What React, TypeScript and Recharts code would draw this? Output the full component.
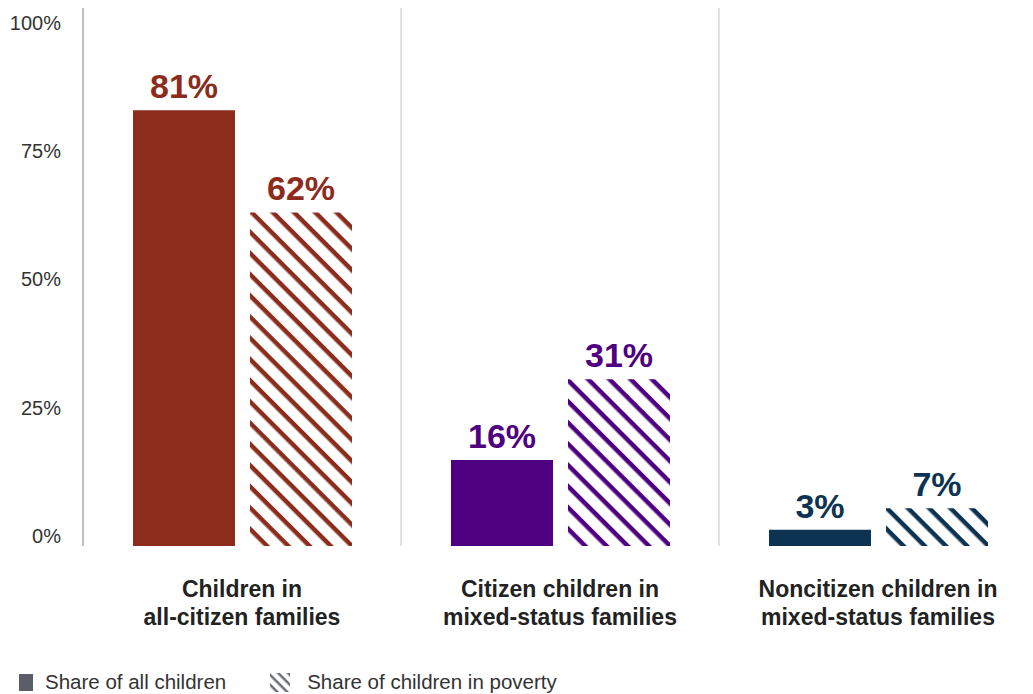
import React from 'react';
import { BarChart, Bar, XAxis, YAxis, Cell, LabelList, ReferenceLine, Legend } from 'recharts';

const categories = [
  'Children in all-citizen families',
  'Citizen children in mixed-status families',
  'Noncitizen children in mixed-status families',
];
const categoryLines = [
  ['Children in', 'all-citizen families'],
  ['Citizen children in', 'mixed-status families'],
  ['Noncitizen children in', 'mixed-status families'],
];
const shareAll = [81, 16, 3];
const sharePoverty = [62, 31, 7];
const yTicks = [0, 25, 50, 75, 100];
const groupColors = ['#8b2c1c', '#4f0080', '#0c3352'];
const seriesNames = ['Share of all children', 'Share of children in poverty'];

const data = categories.map((c, i) => ({ category: c, all: shareAll[i], poverty: sharePoverty[i] }));

const FONT = '"Liberation Sans", Arial, sans-serif';

const YTick = (props: any) => {
  const { x, y, payload } = props;
  const v = payload.value as number;
  const dy = -10 + 0.24 * v;
  return (
    <text x={x} y={y + dy} textAnchor="end" dominantBaseline="central" fill="#333" fontSize={20} fontFamily={FONT}>
      {`${v}%`}
    </text>
  );
};

const XTick = (props: any) => {
  const { x, y, payload } = props;
  const idx = categories.indexOf(payload.value);
  const lines = categoryLines[idx] || [payload.value];
  return (
    <g>
      {lines.map((l, i) => (
        <text key={i} x={x} y={y + 43 + i * 28} textAnchor="middle" dominantBaseline="central" fill="#222" fontSize={23} fontWeight="bold" fontFamily={FONT}>
          {l}
        </text>
      ))}
    </g>
  );
};

const makeLabel = (props: any) => {
  const { x, y, width, value, index } = props;
  return (
    <text x={x + width / 2} y={y - 12} textAnchor="middle" fill={groupColors[index]} fontSize={34} fontWeight="bold" fontFamily={FONT}>
      {`${value}%`}
    </text>
  );
};

const LegendContent = () => (
  <div style={{ display: 'flex', alignItems: 'center', height: 24, fontFamily: FONT, fontSize: 20.5, color: '#333' }}>
    <div style={{ width: 14, height: 17, background: '#5b5e68', marginLeft: 19, marginRight: 12 }} />
    <span style={{ marginRight: 44 }}>{seriesNames[0]}</span>
    <svg width={20} height={19} style={{ marginRight: 17 }}>
      <defs>
        <pattern id="legendHatch" patternUnits="userSpaceOnUse" width={7} height={7} patternTransform="rotate(45)">
          <rect x={0} y={0} width={7} height={2.5} fill="#6b6e78" />
        </pattern>
      </defs>
      <rect x={0} y={0} width={20} height={19} fill="url(#legendHatch)" />
    </svg>
    <span>{seriesNames[1]}</span>
  </div>
);

export default function App() {
  return (
    <div style={{ position: 'absolute', left: 0, top: 0, width: 1033, height: 694, background: '#fff', overflow: 'hidden' }}>
      <BarChart
        width={1033}
        height={694}
        data={data}
        margin={{ top: 8, right: -4, left: 0, bottom: 44 }}
        barSize={102}
        barGap={15}
      >
        <defs>
          {groupColors.map((c, i) => (
            <pattern key={i} id={`hatch${i}`} patternUnits="userSpaceOnUse" width={15} height={15} patternTransform="rotate(45)">
              <rect x={0} y={0} width={15} height={4.5} fill={c} />
            </pattern>
          ))}
        </defs>
        <XAxis
          dataKey="category"
          axisLine={false}
          tickLine={false}
          tickSize={0}
          tickMargin={0}
          height={80}
          interval={0}
          tick={<XTick />}
        />
        <YAxis
          domain={[0, 100]}
          ticks={yTicks}
          width={83}
          axisLine={{ stroke: '#aaaaaa', strokeWidth: 1.5 }}
          tickLine={false}
          tickSize={0}
          tickMargin={22}
          tick={<YTick />}
        />
        <ReferenceLine x={categories[1]} position="start" stroke="#d9d9d9" strokeWidth={1.5} />
        <ReferenceLine x={categories[2]} position="start" stroke="#d9d9d9" strokeWidth={1.5} />
        <Bar dataKey="all" name={seriesNames[0]} isAnimationActive={false}>
          {data.map((_, i) => (
            <Cell key={i} fill={groupColors[i]} />
          ))}
          <LabelList dataKey="all" content={makeLabel} />
        </Bar>
        <Bar dataKey="poverty" name={seriesNames[1]} isAnimationActive={false}>
          {data.map((_, i) => (
            <Cell key={i} fill={`url(#hatch${i})`} />
          ))}
          <LabelList dataKey="poverty" content={makeLabel} />
        </Bar>
        <Legend
          verticalAlign="bottom"
          align="left"
          wrapperStyle={{ top: 670, left: 0, bottom: 'auto', height: 24, width: 800 }}
          content={<LegendContent />}
        />
      </BarChart>
    </div>
  );
}
